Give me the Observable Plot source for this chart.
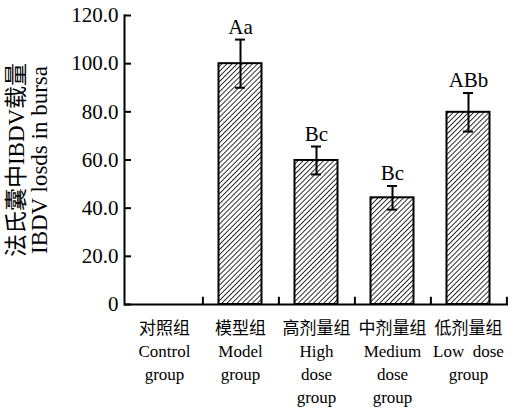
<!DOCTYPE html>
<html>
<head>
<meta charset="utf-8">
<script src="https://cdn.jsdelivr.net/npm/d3@7"></script>
<script src="https://cdn.jsdelivr.net/npm/@observablehq/plot@0.6"></script>
<style>
  html, body { margin: 0; padding: 0; background: #fff; }
</style>
</head>
<body>
<div id="chart"></div>
<script>
const categories = ["对照组", "模型组", "高剂量组", "中剂量组", "低剂量组"];
const labelsEn = ["Control\ngroup", "Model\ngroup", "High\ndose\ngroup", "Medium\ndose\ngroup", "Low  dose\ngroup"];
const values = [0, 100.0, 59.8, 44.3, 79.8];
const errors = [0, 10.0, 5.8, 4.9, 8.0];
const letters = ["", "Aa", "Bc", "Bc", "ABb"];
const yTicks = [0, 20, 40, 60, 80, 100, 120];
const yTitle = "法氏囊中IBDV载量\nIBDV losds in bursa";

const data = categories.map((c, i) => ({cat: c, en: labelsEn[i], v: values[i], e: errors[i], lab: letters[i]}));
const shown = data.filter(d => d.v > 0);

const font = "'Liberation Serif', 'Times New Roman', 'Noto Sans CJK SC', serif";
const width = 516, height = 408;
const mL = 124, mR = 8;
const bw = (width - mL - mR) / categories.length;

const svg = Plot.plot({
  width, height,
  marginLeft: mL, marginRight: mR, marginTop: 15, marginBottom: 104,
  style: {fontFamily: font, fontSize: "21px", color: "#000", background: "#fff"},
  x: {domain: categories, padding: 0, axis: null},
  y: {domain: [0, 120], axis: null},
  marks: [
    Plot.barY(shown, {x: "cat", y: "v", fill: "url(#hatch)", stroke: "#000", strokeWidth: 2, insetLeft: 16.5, insetRight: 16.5}),
    Plot.ruleX(shown, {x: "cat", y1: d => d.v - d.e, y2: d => d.v + d.e, stroke: "#000", strokeWidth: 2}),
    Plot.tickY(shown, {x: "cat", y: d => d.v + d.e, stroke: "#000", strokeWidth: 2, insetLeft: 33, insetRight: 33}),
    Plot.tickY(shown, {x: "cat", y: d => d.v - d.e, stroke: "#000", strokeWidth: 2, insetLeft: 33, insetRight: 33}),
    Plot.text(shown, {x: "cat", y: d => d.v + d.e, text: "lab", lineAnchor: "bottom", dy: -6, fontSize: 21, fill: "#000"}),
    Plot.ruleX(data, {x: "cat", y1: 0, y2: 3, dx: bw / 2, stroke: "#000", strokeWidth: 2}),
    Plot.ruleY([0], {stroke: "#000", strokeWidth: 2}),
    Plot.frame({anchor: "left", stroke: "#000", strokeWidth: 2}),
    Plot.axisY({ticks: yTicks, tickSize: 7, dx: 7, tickFormat: () => "", label: null, strokeWidth: 2}),
    Plot.axisY({ticks: yTicks, tickSize: 0, tickPadding: 6, tickFormat: d => d === 0 ? "0" : d.toFixed(1), fontSize: 21, label: null, fill: "#000"}),
    Plot.axisY({ticks: [], tickSize: 0, label: yTitle, labelArrow: "none", labelAnchor: "center", labelOffset: 117, fontSize: 23, fill: "#000"}),
    Plot.text(data, {x: "cat", y: 0, text: d => d.cat + "\n" + d.en, lineAnchor: "top", dy: 13, fontSize: 17, lineHeight: 1.35, fill: "#000"})
  ]
});

const defs = d3.select(svg).insert("defs", ":first-child");
const pat = defs.append("pattern")
  .attr("id", "hatch")
  .attr("patternUnits", "userSpaceOnUse")
  .attr("width", 3.6).attr("height", 3.6)
  .attr("patternTransform", "rotate(45)");
pat.append("rect").attr("width", 3.6).attr("height", 3.6).attr("fill", "#fff");
pat.append("line").attr("x1", 0).attr("y1", 0).attr("x2", 0).attr("y2", 3.6)
  .attr("stroke", "#000").attr("stroke-width", 1.6);

document.getElementById("chart").appendChild(svg);
</script>
</body>
</html>
